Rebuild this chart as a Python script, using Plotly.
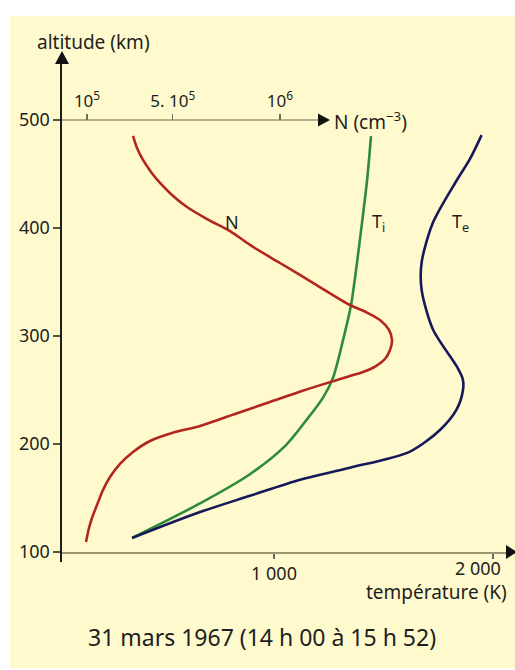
import plotly.graph_objects as go

# ---------------- data ----------------
# Electron density N (cm^-3) versus altitude (km)
n_alt = [109.3, 122.2, 131.5, 143.5, 157.4, 169.4, 181.5, 192.6, 202.8, 210.2, 216.7, 227.8, 238.9,
         250.0, 259.3, 263.0, 266.7, 272.2, 278.7, 287.0, 296.3, 305.6, 314.8, 322.2, 328.7, 348.1,
         367.6, 384.3, 397.2, 408.3, 419.4, 430.6, 441.7, 451.9, 463.0, 474.1, 485.2]
n_val = [0.953e5, 1.093e5, 1.233e5, 1.466e5, 1.746e5, 2.073e5, 2.539e5, 3.146e5, 3.938e5, 4.965e5,
         6.271e5, 7.903e5, 9.536e5, 11.168e5, 12.661e5, 13.267e5, 13.873e5, 14.479e5, 14.899e5,
         15.133e5, 15.226e5, 15.086e5, 14.666e5, 14.013e5, 13.267e5, 11.634e5, 10.002e5, 8.603e5,
         7.670e5, 6.597e5, 5.664e5, 4.965e5, 4.405e5, 3.985e5, 3.612e5, 3.332e5, 3.146e5]

# Ion temperature Ti (K) versus altitude (km)
ti_alt = [113, 145, 172, 198, 224, 243, 261, 296, 329, 368, 405, 444, 485]
ti_val = [352, 662, 890, 1050, 1155, 1224, 1269, 1315, 1352, 1379, 1402, 1425, 1443]

# Electron temperature Te (K) versus altitude (km)
te_alt = [113, 137, 152, 167, 178, 193, 213, 232, 250, 260, 272, 306, 343, 368, 405, 444, 464, 486]
te_val = [352, 662, 890, 1119, 1347, 1621, 1758, 1834, 1863, 1862, 1834, 1726, 1674, 1674, 1726, 1834, 1895, 1948]

alt_ticks = [100, 200, 300, 400, 500]
t_ticks = [1000, 2000]
t_ticktext = ["1 000", ""]
n_ticks = [1e5, 5e5, 1e6]
n_ticktext = ["10<sup>5</sup>", "5. 10<sup>5</sup>", "10<sup>6</sup>"]

# ---------------- styling ----------------
W, H = 515, 670
FONT = "Noto Sans, Open Sans, Liberation Sans, sans-serif"
TXT = "#1e1e1e"
BG = "#FEFACD"
AXC = "#9a9670"
RED = "#B3261E"
GREEN = "#2E8B3A"
NAVY = "#15195A"


def px(x):
    return x / W


def py(y):
    return 1 - y / H


fig = go.Figure()

line_kw = dict(width=2.6, shape="spline", smoothing=0.8)
fig.add_trace(go.Scatter(x=n_val, y=n_alt, mode="lines", line=dict(color=RED, **line_kw),
                         xaxis="x2", yaxis="y", hoverinfo="skip", showlegend=False))
fig.add_trace(go.Scatter(x=ti_val, y=ti_alt, mode="lines", line=dict(color=GREEN, **line_kw),
                         xaxis="x", yaxis="y", hoverinfo="skip", showlegend=False))
fig.add_trace(go.Scatter(x=te_val, y=te_alt, mode="lines", line=dict(color=NAVY, **line_kw),
                         xaxis="x", yaxis="y", hoverinfo="skip", showlegend=False))

x_dom = [px(62), 1.0]
fig.update_layout(
    width=W, height=H, autosize=False,
    margin=dict(l=0, r=0, t=0, b=0),
    paper_bgcolor="white", plot_bgcolor="rgba(0,0,0,0)",
    font=dict(family=FONT, color=TXT, size=18),
    xaxis=dict(domain=x_dom, range=[31.96, 2100.5], anchor="free", position=py(552),
               showline=True, linecolor=AXC, linewidth=1.6, showgrid=False, zeroline=False,
               ticks="outside", ticklen=5, tickwidth=1.2, tickcolor="#6e6c58",
               tickvals=t_ticks, ticktext=t_ticktext, tickfont=dict(size=18, color=TXT)),
    xaxis2=dict(domain=x_dom, range=[-16604, 2096300], overlaying="x", anchor="free", position=py(120),
                side="top", showline=False, showgrid=False, zeroline=False,
                ticks="outside", ticklen=6, tickwidth=1.2, tickcolor="#6e6c58",
                tickvals=n_ticks, ticktext=n_ticktext, tickfont=dict(size=17, color=TXT)),
    yaxis=dict(domain=[py(562), py(60)], range=[90.74, 555.56], anchor="x",
               showline=True, linecolor="#1e1e1e", linewidth=1.6, showgrid=False, zeroline=False,
               ticks="outside", ticklen=7, tickwidth=1.2, tickcolor="#555545",
               tickvals=alt_ticks, tickfont=dict(size=18, color=TXT)),
)

shapes = [
    dict(type="rect", xref="paper", yref="paper", x0=px(10), x1=1, y0=py(668), y1=py(16),
         fillcolor=BG, line=dict(width=0), layer="below"),
    dict(type="line", xref="paper", yref="paper", x0=px(62), x1=px(320), y0=py(120), y1=py(120),
         line=dict(color=AXC, width=1.6), layer="below"),
    dict(type="path", xref="paper", yref="paper",
         path=f"M {px(62)},{py(51)} L {px(55)},{py(64)} L {px(69)},{py(64)} Z",
         fillcolor="#111", line=dict(width=0)),
    dict(type="path", xref="paper", yref="paper",
         path=f"M {px(330)},{py(120)} L {px(318)},{py(113.5)} L {px(318)},{py(126.5)} Z",
         fillcolor="#111", line=dict(width=0)),
    dict(type="path", xref="paper", yref="paper",
         path=f"M {px(517)},{py(552)} L {px(506)},{py(545)} L {px(506)},{py(559)} Z",
         fillcolor="#111", line=dict(width=0)),
]
fig.update_layout(shapes=shapes)

ann = [
    dict(text="altitude (km)", x=px(35), y=py(42), xanchor="left", yanchor="middle", font=dict(size=19)),
    dict(text="N (cm<sup>−3</sup>)", x=px(332), y=py(121), xanchor="left", yanchor="middle", font=dict(size=19)),
    dict(text="température (K)", x=px(509), y=py(592), xanchor="right", yanchor="middle", font=dict(size=19)),
    dict(text="31 mars 1967 (14 h 00 à 15 h 52)", x=px(262), y=py(637), xanchor="center", yanchor="middle",
         font=dict(size=23)),
    dict(text="N", x=px(232), y=py(222), xanchor="center", yanchor="middle", font=dict(size=18)),
    dict(text="T<sub>i</sub>", x=px(378), y=py(222), xanchor="center", yanchor="middle", font=dict(size=18)),
    dict(text="T<sub>e</sub>", x=px(460), y=py(222), xanchor="center", yanchor="middle", font=dict(size=18)),
]
for a in ann:
    a.update(xref="paper", yref="paper", showarrow=False)
# label of the 2 000 tick, shifted left of its tick as in the original
ann.append(dict(text="2 000", x=2000, xref="x", y=py(568), yref="paper", xanchor="right", yanchor="middle",
                xshift=10, showarrow=False, font=dict(size=18)))
fig.update_layout(annotations=ann)

fig.write_html("out.html", config={"displayModeBar": False, "staticPlot": True},
               post_script="document.body.style.margin='0';document.body.style.overflow='hidden';")
